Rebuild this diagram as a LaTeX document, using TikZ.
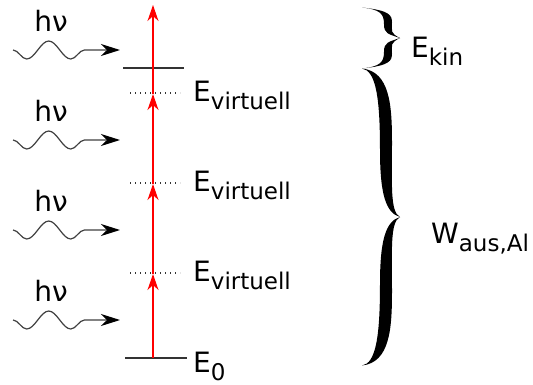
\documentclass[tikz,border=0pt]{standalone}
\usepackage{fontspec}
\setmainfont{DejaVu Sans}
\usetikzlibrary{arrows.meta,decorations.pathmorphing}
\newcommand{\sublbl}[2]{#1\raisebox{-8pt}{\fontsize{23}{26}\selectfont #2}}
% half of a curly brace, tip at the local origin, end at (-38,-#1); #2 = stroke thickness
\newcommand{\halfbrace}[2]{%
  \fill (-38,-#1) .. controls (-10,{-#1+3}) and (-8,{-0.75*#1}) .. (-8,{-0.5*#1})
    .. controls (-8,{-0.22*#1}) and (-10,-5) .. (0,0)
    .. controls ({-8-#2*0.5},-4) and ({-8-#2},{-0.15*#1}) .. ({-8-#2},{-0.45*#1})
    .. controls ({-8-#2},{-0.8*#1}) and ({-12-#2},{-#1+2}) .. (-38,-#1) -- cycle;}
\tikzset{
  lbl/.style={font=\fontsize{28}{32}\selectfont, inner sep=0pt, anchor=base west},
  hnu/.style={font=\fontsize{28}{32}\selectfont, inner sep=0pt, anchor=base},
  level/.style={draw=black!80, line width=2pt},
  virt/.style={draw=black!80, line width=1.3pt, dash pattern=on 1.3pt off 3.7pt},
  redarrow/.style={draw=red, line width=1.3pt, -{Stealth[length=16pt,width=11pt,inset=5pt]}},
  wave/.style={draw=black!75, line width=1.2pt, decorate,
    decoration={snake, amplitude=9pt, segment length=44pt, post length=19pt, mirror},
    -{Stealth[length=19pt,width=12pt,inset=6pt,color=black]}}
}
\begin{document}
\begin{tikzpicture}[x=1pt,y=-1pt]
\useasboundingbox (0,0) rectangle (533,384);
% levels
\coordinate (l1a) at (123,68); \coordinate (l1b) at (184,68);
\coordinate (l0a) at (125,358); \coordinate (l0b) at (187,358);
\draw[level] (l1a) -- (l1b);
\draw[level] (l0a) -- (l0b);
\coordinate (v1a) at (130,93);  \coordinate (v1b) at (180,93);
\coordinate (v2a) at (130,183); \coordinate (v2b) at (180,183);
\coordinate (v3a) at (130,273); \coordinate (v3b) at (180,273);
\draw[virt] (v1a) -- (v1b);
\draw[virt] (v2a) -- (v2b);
\draw[virt] (v3a) -- (v3b);
% red excitation arrows
\coordinate (r0) at (153,358);
\coordinate (r3) at (153,274);
\coordinate (r2) at (153,184);
\coordinate (r1) at (153,94);
\coordinate (rt) at (153,5);
\draw[redarrow] (r0) -- (r3);
\draw[redarrow] (r3) -- (r2);
\draw[redarrow] (r2) -- (r1);
\draw[redarrow] (r1) -- (rt);
% labels
\node[lbl] (ev1) at (193,101) {\sublbl{E}{virtuell}};
\node[lbl] (ev2) at (193,191) {\sublbl{E}{virtuell}};
\node[lbl] (ev3) at (193,281) {\sublbl{E}{virtuell}};
\node[lbl] (e0) at (193,372) {\sublbl{E}{0}};
% photons
\foreach \i/\y in {1/50,2/140,3/230,4/320}{
  \coordinate (ws\i) at (13,\y);
  \coordinate (we\i) at (120,\y);
  \draw[wave] (ws\i) -- (we\i);
  \node[hnu] (h\i) at (51,\y-19) {hν};
}
% braces
\begin{scope}[shift={(400,38)}] \halfbrace{30.5}{8} \end{scope}
\begin{scope}[shift={(400,38)}, yscale=-1] \halfbrace{30.5}{8} \end{scope}
\begin{scope}[shift={(400,217)}] \halfbrace{148.5}{12} \end{scope}
\begin{scope}[shift={(400,217)}, yscale=-1] \halfbrace{148.5}{12} \end{scope}
\node[lbl] (ekin) at (411,57) {\sublbl{E}{kin}};
\node[lbl] (waus) at (431,243) {\sublbl{W}{aus,Al}};
\end{tikzpicture}
\end{document}
